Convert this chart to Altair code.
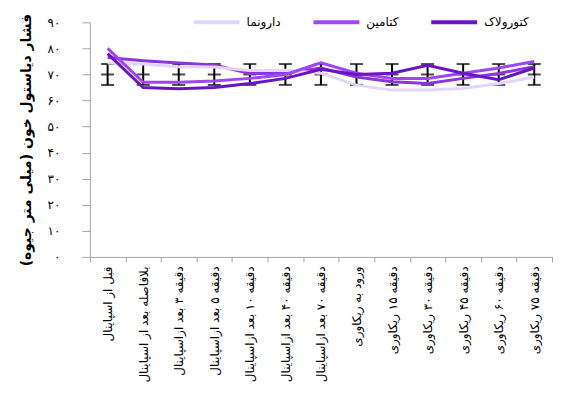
import altair as alt
import pandas as pd

categories = [
    "قبل از اسپاینال",
    "بلافاصله بعد از اسپاینال",
    "دقیقه ۳ بعد ازاسپاینال",
    "دقیقه ۵ بعد ازاسپاینال",
    "دقیقه ۱۰ بعد ازاسپاینال",
    "دقیقه ۴۰ بعد ازاسپاینال",
    "دقیقه ۷۰ بعد ازاسپاینال",
    "ورود به ریکاوری",
    "دقیقه ۱۵ ریکاوری",
    "دقیقه ۳۰ ریکاوری",
    "دقیقه ۴۵ ریکاوری",
    "دقیقه ۶۰ ریکاوری",
    "دقیقه ۷۵ ریکاوری",
]

ketorolac = [78, 65, 64.5, 65, 66.5, 68.5, 72, 70, 70.5, 73.5, 70.5, 68, 72.5]
ketamine = [80, 67, 67, 67.5, 68.5, 70, 74.5, 70.5, 68.5, 68.5, 70.5, 72.5, 75]
extra_series = [76.5, 75.3, 74.4, 73.6, 70.4, 70.5, 72.5, 69, 67.2, 66.5, 68.5, 70.4, 73]
placebo = [74.4, 74, 73, 72.9, 71.5, 71.6, 70.5, 65.9, 64, 64, 64.6, 66.5, 69]

err_center = [70] * 13
err_half = [4] * 13

series_names = ["دارونما", "کتامین", "کتورولاک"]
series_colors = ["#E3D6FD", "#A046F2", "#6A14C8"]
extra_color = "#8B35E0"

y_tick_values = [0, 10, 20, 30, 40, 50, 60, 70, 80, 90]
y_tick_labels = ["۰", "۱۰", "۲۰", "۳۰", "۴۰", "۵۰", "۶۰", "۷۰", "۸۰", "۹۰"]

font = "DejaVu Sans"

rows = []
for name, vals in zip(series_names, [placebo, ketamine, ketorolac]):
    for c, v in zip(categories, vals):
        rows.append({"cat": c, "series": name, "value": v})
lines_df = pd.DataFrame(rows)
extra_df = pd.DataFrame({"cat": categories, "value": extra_series})
err_df = pd.DataFrame({
    "cat": categories,
    "mid": err_center,
    "lo": [c - h for c, h in zip(err_center, err_half)],
    "hi": [c + h for c, h in zip(err_center, err_half)],
})

label_expr = "[" + ",".join("'%s'" % s for s in y_tick_labels) + "][round(datum.value/10)]"

xenc = alt.X(
    "cat:N", sort=categories, bandPosition=0.5,
    scale=alt.Scale(type="band", paddingInner=0, paddingOuter=0),
    axis=alt.Axis(title=None, labelAngle=-90, tickBand="extent", labelFont=font,
                  labelFontSize=12, labelColor="#000", tickColor="#A6A6A6",
                  domainColor="#A6A6A6", tickSize=5, labelPadding=4, labelLimit=300,
                  labelOverlap=False),
)
yscale = alt.Scale(domain=[0, 90], nice=False, zero=True)
yaxis = alt.Axis(
    title="فشار دیاستول خون (میلی متر جیوه)", values=y_tick_values, labelExpr=label_expr,
    grid=False, titleFont=font, titleFontSize=14, titleFontWeight="bold", titleColor="#000",
    labelFont=font, labelFontSize=12, labelColor="#000", tickColor="#A6A6A6",
    domainColor="#A6A6A6", tickSize=8, labelPadding=22, titlePadding=14,
    labelOverlap=False, tickCount=10,
)


def Y(field):
    return alt.Y(field, scale=yscale, axis=yaxis)


rule = alt.Chart(err_df).mark_rule(color="black", strokeWidth=2).encode(
    x=xenc, y=Y("lo:Q"), y2="hi:Q"
)
caps = [
    alt.Chart(err_df).mark_tick(color="black", thickness=2, size=13, orient="horizontal").encode(
        x=xenc, y=Y(f"{f}:Q")
    ) for f in ["lo", "mid", "hi"]
]

extra = alt.Chart(extra_df).mark_line(color=extra_color, strokeWidth=3).encode(
    x=xenc, y=Y("value:Q")
)

lines = alt.Chart(lines_df).mark_line(strokeWidth=3).encode(
    x=xenc,
    y=Y("value:Q"),
    color=alt.Color(
        "series:N",
        scale=alt.Scale(domain=series_names, range=series_colors),
        legend=alt.Legend(
            title=None, orient="none", legendX=102, legendY=-25, direction="horizontal",
            symbolType="stroke", symbolSize=2116, symbolStrokeWidth=4, labelFont=font,
            labelFontSize=12, labelFontWeight="normal", labelColor="#000",
            columnPadding=24, labelOffset=5,
        ),
    ),
    order=alt.Order("series:N"),
)

chart = alt.layer(rule, *caps, extra, lines).properties(
    width=463, height=235,
    autosize=alt.AutoSizeParams(type="none"),
    padding={"left": 82, "top": 14, "right": 10, "bottom": 160},
    background="white",
).configure_view(stroke=None)

chart.save("out.html", embed_options={"renderer": "svg", "actions": False})
